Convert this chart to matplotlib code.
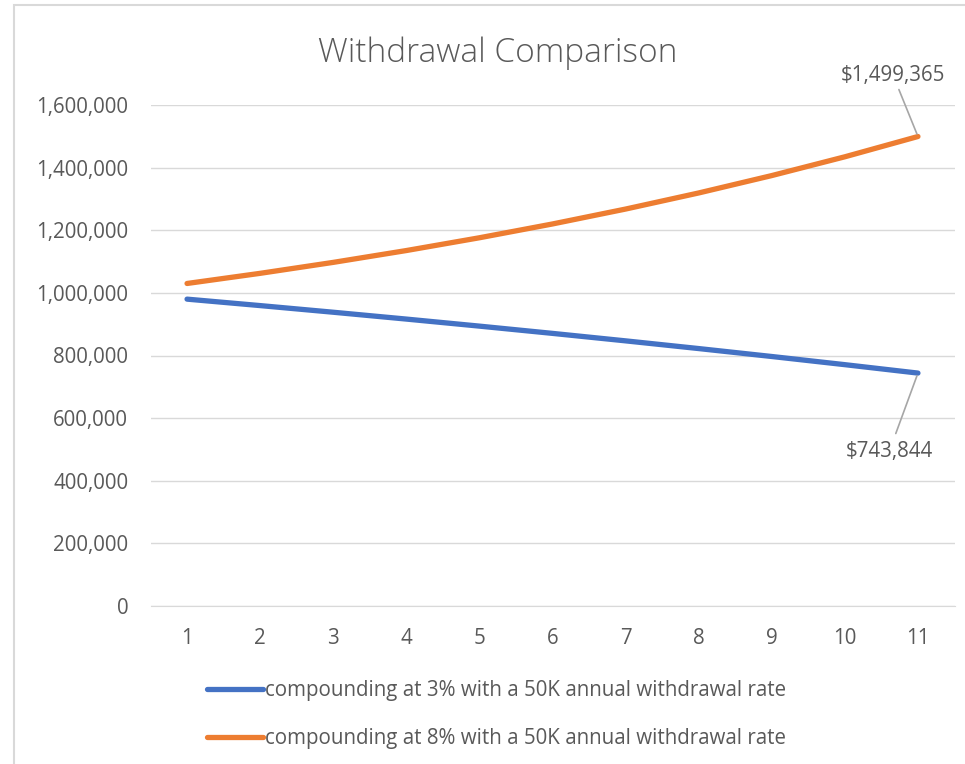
import matplotlib
matplotlib.use("Agg")
import matplotlib.pyplot as plt
from matplotlib.patches import Rectangle
from matplotlib.ticker import FuncFormatter

years = list(range(1, 12))
rate3 = [980000, 959400, 938182, 916327, 893817, 870632, 846751, 822154, 796818, 770723, 743844]
rate8 = [1030000, 1062400, 1097392, 1135183, 1175998, 1220077, 1267684, 1319098, 1374626, 1434596, 1499365]
labels = ["compounding at 3% with a 50K annual withdrawal rate",
          "compounding at 8% with a 50K annual withdrawal rate"]
colors = ["#4472C4", "#ED7D31"]
yticks = [0, 200000, 400000, 600000, 800000, 1000000, 1200000, 1400000, 1600000]

plt.rcParams['font.family'] = ['Open Sans', 'DejaVu Sans']
txt = "#595959"
fs = 14.8

fig = plt.figure(figsize=(9.65, 7.64), dpi=100)
W, H = 965, 764
ax = fig.add_axes([150.5 / W, 158 / H, (954.5 - 150.5) / W, (659 - 158) / H])

ax.plot(years, rate3, color=colors[0], lw=3.8, solid_capstyle='round', label=labels[0])
ax.plot(years, rate8, color=colors[1], lw=3.8, solid_capstyle='round', label=labels[1])

ax.set_xlim(0.5, 11.5)
ax.set_ylim(0, 1600000)
ax.set_yticks(yticks)
ax.yaxis.set_major_formatter(FuncFormatter(lambda v, p: f"{int(v):,}"))
ax.set_xticks(years)
ax.grid(axis='y', color='#D9D9D9', lw=1)
ax.set_axisbelow(True)
for s in ['top', 'right', 'left']:
    ax.spines[s].set_visible(False)
ax.spines['bottom'].set_color('#D9D9D9')
ax.tick_params(axis='both', length=0, labelsize=fs, labelcolor=txt)
ax.tick_params(axis='y', pad=16)
ax.tick_params(axis='x', pad=16)

# data labels with leader lines
ax.annotate(f"${rate8[-1]:,}", xy=(years[-1], rate8[-1]), xytext=(893 / W, 689 / H),
            textcoords='figure fraction', ha='center', va='center', fontsize=fs, color=txt,
            arrowprops=dict(arrowstyle='-', color='#A6A6A6', lw=1.2, shrinkA=1, shrinkB=2))
ax.annotate(f"${rate3[-1]:,}", xy=(years[-1], rate3[-1]), xytext=(889 / W, 312 / H),
            textcoords='figure fraction', ha='center', va='center', fontsize=fs, color=txt,
            arrowprops=dict(arrowstyle='-', color='#A6A6A6', lw=1.2, shrinkA=4, shrinkB=2))

fig.text(498 / W, 711 / H, "Withdrawal Comparison", ha='center', va='center',
         fontsize=24, color=txt, fontweight='light')

leg = fig.legend(loc='upper left', bbox_to_anchor=(207 / W, 84 / H), frameon=False,
                 fontsize=fs, labelcolor=txt, handlelength=2.7, handletextpad=0.12,
                 labelspacing=1.3, borderaxespad=0, borderpad=0)
for h in leg.get_lines():
    h.set_linewidth(3.8)

fig.patches.append(Rectangle((14 / W, -0.1), 2, 1.1 - 5 / H, transform=fig.transFigure,
                             fill=False, edgecolor='#D9D9D9', lw=1.5))

fig.savefig("out.png", dpi=100)
